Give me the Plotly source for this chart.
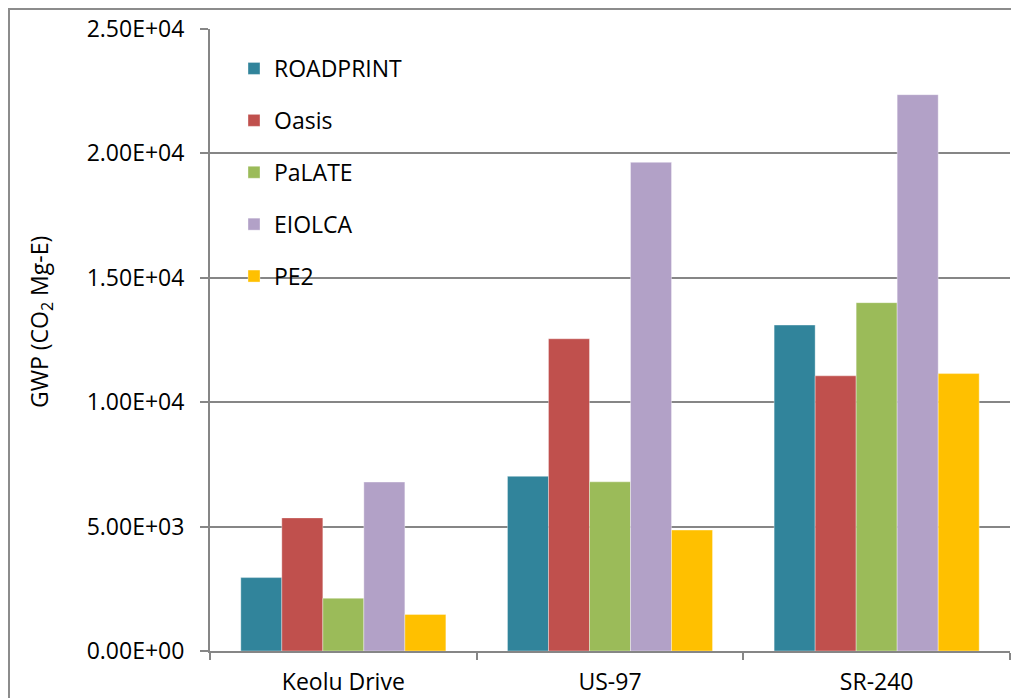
import plotly.graph_objects as go

categories = ["Keolu Drive", "US-97", "SR-240"]
roadprint = [2950, 7020, 13100]
oasis = [5350, 12550, 11060]
palate = [2120, 6800, 14000]
eiolca = [6790, 19640, 22360]
pe2 = [1470, 4860, 11150]

series_names = ["ROADPRINT", "Oasis", "PaLATE", "EIOLCA", "PE2"]
series_values = [roadprint, oasis, palate, eiolca, pe2]
colors = ["#31849B", "#C0504D", "#9BBB59", "#B2A1C7", "#FFC000"]

tick_vals = [0, 5000, 10000, 15000, 20000, 25000]
tick_text = [f"{v:.2E}" for v in tick_vals]

FONT = "Open Sans, Liberation Sans, sans-serif"
FS = 23

fig = go.Figure()
for name, vals, col in zip(series_names, series_values, colors):
    fig.add_trace(go.Bar(
        name=name, x=categories, y=vals,
        marker=dict(color=col, line=dict(color="rgba(255,255,255,0.6)", width=0.6)),
        legendgroup=name,
    ))

# page has an 8px body margin; figure sized so it ends at the window edge
OFF = 8
W, H = 1019 - OFF, 698 - OFF
L, T = 210 - OFF, 29 - OFF
pw, ph = 800, 622
R = W - L - pw
B = H - T - ph

def px_x(page_x):
    return (page_x - OFF - L) / pw

def px_y(page_y):
    return (T + ph - (page_y - OFF)) / ph

fig.update_layout(
    width=W, height=H,
    margin=dict(l=L, r=R, t=T, b=B, autoexpand=False),
    paper_bgcolor="white", plot_bgcolor="white",
    barmode="group", bargap=0.231, bargroupgap=0,
    font=dict(family=FONT, size=FS, color="#000000"),
    showlegend=True,
    legend=dict(
        x=px_x(234), y=px_y(47), xanchor="left", yanchor="top",
        bgcolor="rgba(0,0,0,0)", font=dict(size=FS, family=FONT),
        tracegroupgap=19, itemwidth=30,
    ),
    xaxis=dict(
        automargin=False,
        showline=True, linecolor="#868686", linewidth=2,
        ticks="outside", tickson="boundaries", ticklen=7, tickcolor="#868686", tickwidth=2,
        tickfont=dict(size=FS, family=FONT),
        ticklabelstandoff=9,
        showgrid=False,
    ),
    yaxis=dict(
        automargin=False,
        range=[0, 25000], tickvals=tick_vals, ticktext=tick_text,
        showline=True, linecolor="#868686", linewidth=2,
        ticks="outside", ticklen=8, tickcolor="#868686", tickwidth=2,
        showgrid=True, gridcolor="#868686", gridwidth=1.5,
        zeroline=False,
        tickfont=dict(size=FS, family=FONT),
        ticklabelstandoff=11,
    ),
    shapes=[dict(
        type="rect", xref="paper", yref="paper",
        x0=px_x(OFF + 1), x1=1.2, y0=-0.3, y1=px_y(OFF + 1),
        line=dict(color="#8C8C8C", width=2), fillcolor="rgba(0,0,0,0)", layer="below",
    )],
    annotations=[dict(
        text="GWP (CO<sub>2</sub> Mg-E)", textangle=-90,
        xref="paper", yref="paper", x=px_x(40), y=px_y(322),
        xanchor="center", yanchor="middle", showarrow=False,
        font=dict(size=FS, family=FONT),
    )],
)

fig.write_html("out.html")
